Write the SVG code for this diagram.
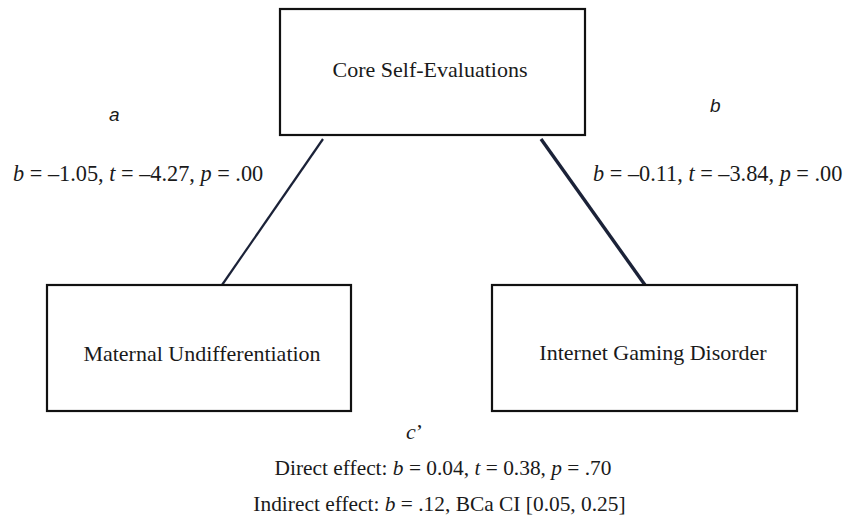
<svg xmlns="http://www.w3.org/2000/svg" width="846" height="522" viewBox="0 0 846 522">
<style>
.box{fill:#fff;stroke:#111;stroke-width:2.2}
.t{font-family:"Liberation Serif","Times New Roman",serif;font-size:22px;fill:#1a1a1a}
.s{font-size:22.3px}
.bt{font-size:21.4px}
.lbl{font-family:"Liberation Sans",Arial,sans-serif;font-size:19px;font-style:italic;fill:#1a1a1a}
.i{font-style:italic}
.con{stroke:#1b2238;fill:none;stroke-linecap:butt}
</style>
<rect width="846" height="522" fill="#fff"/>
<g id="connectors">
<line class="con" x1="323" y1="139" x2="222" y2="285" stroke-width="2.2"/>
<line class="con" x1="541" y1="139" x2="645" y2="285" stroke-width="3.4"/>
</g>
<g id="node-cse">
<rect class="box" x="280" y="9" width="305" height="126"/>
<text class="t" x="430" y="77" text-anchor="middle">Core Self-Evaluations</text>
</g>
<g id="node-mu">
<rect class="box" x="47" y="285" width="304" height="126"/>
<text class="t" x="202" y="361" text-anchor="middle">Maternal Undifferentiation</text>
</g>
<g id="node-igd">
<rect class="box" x="492" y="285" width="305" height="126"/>
<text class="t" x="653" y="360" text-anchor="middle">Internet Gaming Disorder</text>
</g>
<g id="labels">
<text class="lbl" x="109" y="121">a</text>
<text class="lbl" x="710" y="112">b</text>
<text class="t s" x="13" y="181"><tspan class="i">b</tspan> = –1.05, <tspan class="i">t</tspan> = –4.27, <tspan class="i">p</tspan> = .00</text>
<text class="t s" x="593" y="181"><tspan class="i">b</tspan> = –0.11, <tspan class="i">t</tspan> = –3.84, <tspan class="i">p</tspan> = .00</text>
<text class="t" x="406" y="439"><tspan class="i">c</tspan>’</text>
<text class="t bt" x="443" y="475" text-anchor="middle">Direct effect: <tspan class="i">b</tspan> = 0.04, <tspan class="i">t</tspan> = 0.38, <tspan class="i">p</tspan> = .70</text>
<text class="t bt" x="439.5" y="511" text-anchor="middle">Indirect effect: <tspan class="i">b</tspan> = .12, BCa CI [0.05, 0.25]</text>
</g>
</svg>
